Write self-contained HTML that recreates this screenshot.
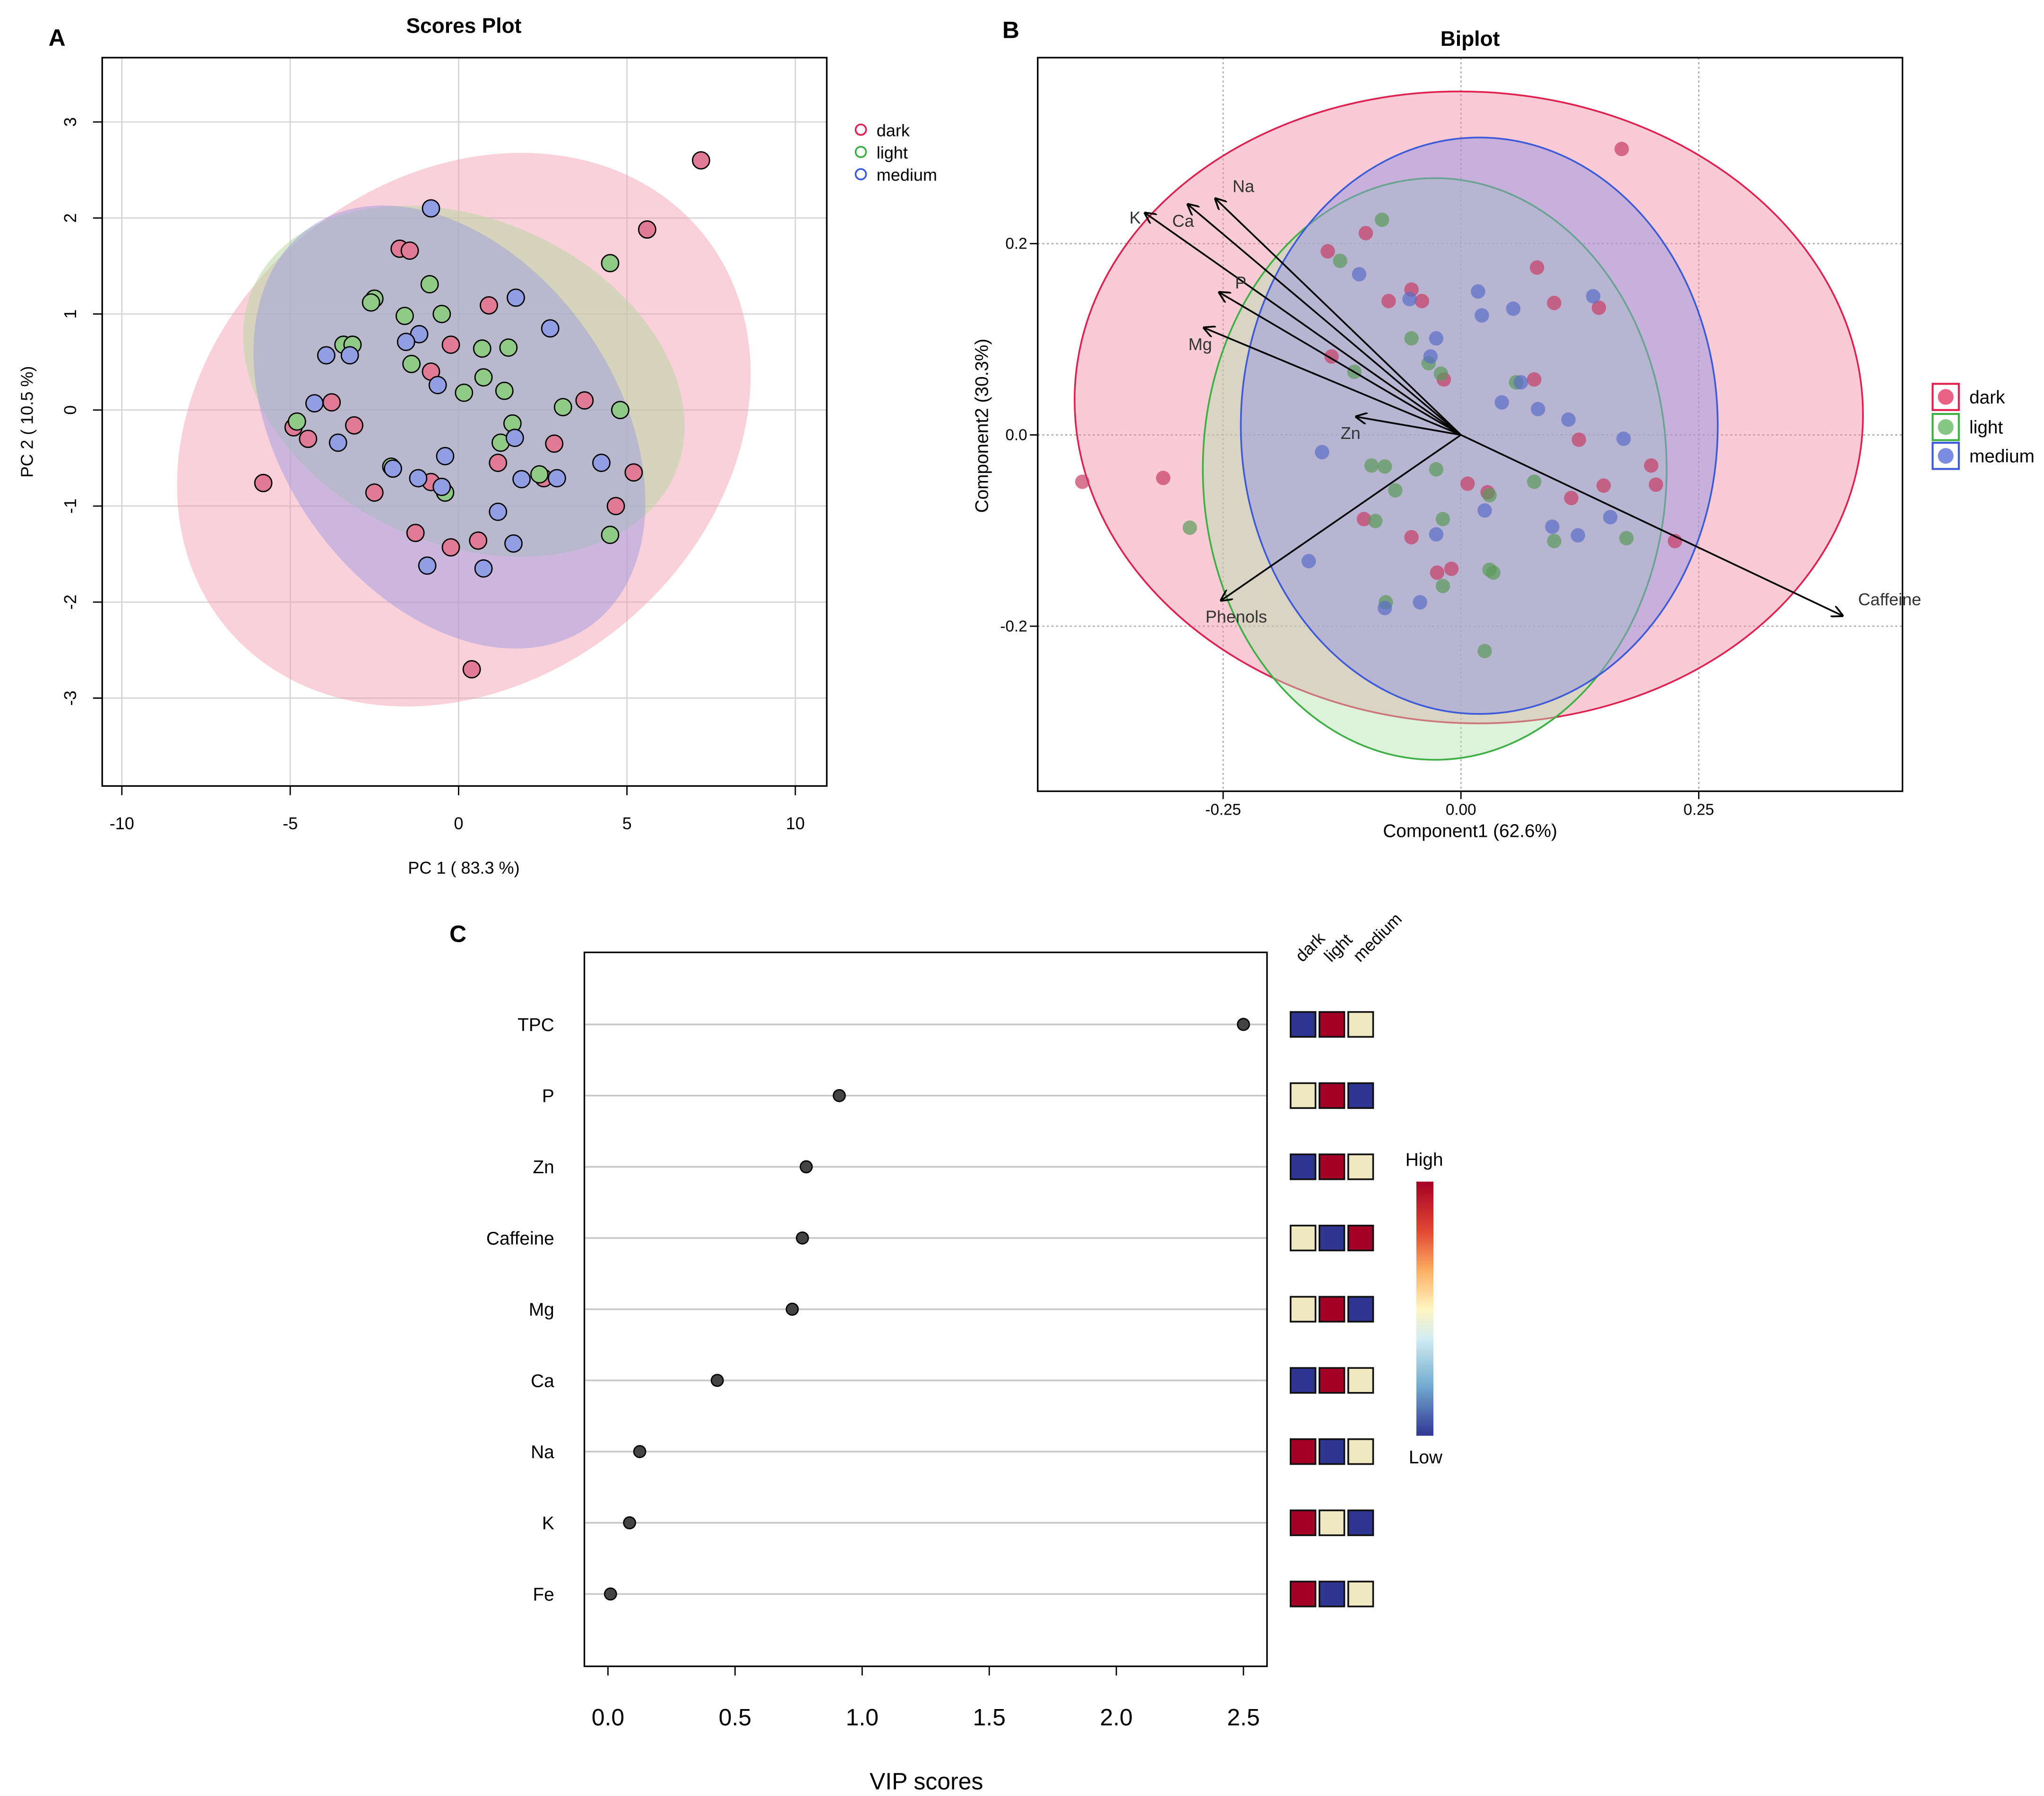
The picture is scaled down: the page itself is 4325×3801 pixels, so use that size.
<!DOCTYPE html>
<html><head><meta charset="utf-8"><style>
html,body{margin:0;padding:0;background:#fff;}
svg{display:block;font-family:"Liberation Sans",sans-serif;}
</style></head><body>
<svg id="fig" width="4325" height="3801" viewBox="0 0 1560 1371" xmlns="http://www.w3.org/2000/svg">
<defs>
<linearGradient id="rdylbu" x1="0" y1="0" x2="0" y2="1">
<stop offset="0" stop-color="#a50026"/><stop offset="0.2" stop-color="#e34a33"/><stop offset="0.35" stop-color="#fdae61"/><stop offset="0.5" stop-color="#fff5c0"/><stop offset="0.62" stop-color="#d1ecf2"/><stop offset="0.8" stop-color="#74add1"/><stop offset="1" stop-color="#313695"/>
</linearGradient>
<marker id="ah" viewBox="0 0 10 10" refX="9" refY="5" markerWidth="9" markerHeight="9" orient="auto-start-reverse" markerUnits="userSpaceOnUse"><path d="M0,0 L10,5 L0,10" fill="none" stroke="#000" stroke-width="1.5"/></marker>
</defs>
<g id="A"></g>
<g id="B"></g>
<g id="C"></g>
</svg>
<script>
// ---- Panel A data ----
const aDarkX=[7.2,5.6,-1.75,-1.45,0.9,-0.23,-0.82,3.74,-3.77,-4.9,-4.47,-3.1,2.84,1.17,5.2,2.53,-0.82,-5.8,-2.5,4.67,-1.28,0.58,-0.23,0.39];
const aDarkY=[2.6,1.88,1.68,1.66,1.09,0.68,0.4,0.1,0.08,-0.18,-0.3,-0.16,-0.35,-0.55,-0.65,-0.71,-0.75,-0.76,-0.86,-1.0,-1.28,-1.36,-1.43,-2.7];
const aLightX=[4.5,-0.86,-2.5,-2.6,-1.6,-0.5,-3.42,-3.15,0.7,1.48,-1.4,0.74,0.16,1.36,3.1,4.8,-4.8,1.6,1.25,-2.0,-0.4,2.4,4.5];
const aLightY=[1.53,1.31,1.16,1.12,0.98,1.0,0.68,0.68,0.64,0.65,0.48,0.34,0.18,0.2,0.03,0.0,-0.12,-0.14,-0.34,-0.59,-0.86,-0.67,-1.3];
const aMedX=[-0.82,1.7,2.72,-3.93,-3.23,-1.17,-1.56,-0.62,-4.28,-3.58,1.67,-0.4,4.24,-1.95,-1.2,1.87,2.92,-0.5,1.17,1.63,-0.93,0.74];
const aMedY=[2.1,1.17,0.85,0.57,0.57,0.79,0.71,0.26,0.07,-0.34,-0.29,-0.48,-0.55,-0.61,-0.71,-0.72,-0.71,-0.8,-1.06,-1.39,-1.62,-1.65];
const aXTicks=[-10,-5,0,5,10];
const aYTicks=[-3,-2,-1,0,1,2,3];
// ---- Panel B data ----
const bDarkX=[0.169,-0.398,-0.313,-0.140,-0.100,-0.052,-0.041,0.080,0.098,0.145,-0.136,-0.018,0.077,0.124,0.200,0.205,0.150,0.116,0.007,-0.102,-0.052,0.028,-0.010,-0.025,0.225,-0.076];
const bDarkY=[0.299,-0.049,-0.045,0.192,0.211,0.152,0.140,0.175,0.138,0.133,0.082,0.058,0.058,-0.005,-0.032,-0.052,-0.053,-0.066,-0.051,-0.088,-0.107,-0.060,-0.140,-0.144,-0.111,0.140];
const bLightX=[-0.083,-0.127,-0.112,-0.052,-0.034,-0.021,-0.094,-0.080,-0.069,-0.026,-0.090,-0.019,0.030,0.077,0.098,0.174,0.030,0.034,-0.019,-0.079,0.025,-0.285,0.058];
const bLightY=[0.225,0.182,0.066,0.101,0.075,0.064,-0.032,-0.033,-0.058,-0.036,-0.090,-0.088,-0.063,-0.049,-0.111,-0.108,-0.141,-0.144,-0.158,-0.175,-0.226,-0.097,0.055];
const bMedX=[-0.107,-0.054,0.018,0.022,0.055,0.139,-0.026,-0.032,0.063,0.043,0.081,0.113,0.171,-0.146,-0.160,-0.026,0.025,0.096,0.123,0.157,-0.043,-0.080];
const bMedY=[0.168,0.142,0.150,0.125,0.132,0.145,0.101,0.082,0.055,0.034,0.027,0.016,-0.004,-0.018,-0.132,-0.104,-0.079,-0.096,-0.105,-0.086,-0.175,-0.181];
const arrowNames=["Na","Ca","K","P","Mg","Zn","Phenols","Caffeine"];
const arrowX=[-0.258,-0.287,-0.332,-0.254,-0.270,-0.110,-0.252,0.401];
const arrowY=[0.247,0.241,0.232,0.149,0.112,0.019,-0.173,-0.189];
const bXTicks=[-0.25,0.00,0.25];
const bXTickLabels=["-0.25","0.00","0.25"];
const bYTicks=[-0.2,0.0,0.2];
const bYTickLabels=["-0.2","0.0","0.2"];
// ---- Panel C data ----
const vipNames=["TPC","P","Zn","Caffeine","Mg","Ca","Na","K","Fe"];
const vipValues=[2.50,0.91,0.78,0.765,0.725,0.43,0.125,0.085,0.01];
const heatLevels=[["B","R","C"],["C","R","B"],["B","R","C"],["C","B","R"],["C","R","B"],["B","R","C"],["R","B","C"],["R","C","B"],["R","B","C"]];
const groupNames=["dark","light","medium"];
const cXTicks=[0,0.5,1,1.5,2,2.5];
const cXTickLabels=["0.0","0.5","1.0","1.5","2.0","2.5"];

const NS="http://www.w3.org/2000/svg";
function mk(parent,tag,attrs,text){const e=document.createElementNS(NS,tag);for(const k in attrs)e.setAttribute(k,attrs[k]);if(text!==undefined)e.textContent=text;parent.appendChild(e);return e;}

// ===== Panel A =====
(function(){
const g=document.getElementById('A');
const L=78,R=631,T=44,Bt=600;
const sx=v=>350+v*25.7, sy=v=>313-v*73.3;
let e;
e=mk(g,'text',{x:37,y:35,'font-size':18,'font-weight':'bold'},'A');


e=mk(g,'text',{x:354,y:25,'font-size':16,'font-weight':'bold','text-anchor':'middle'},'Scores Plot');


aXTicks.forEach(t=>{
 e=mk(g,'line',{x1:sx(t),x2:sx(t),y1:T,y2:Bt,stroke:'#d6d6d6','stroke-width':1});
 
 
 mk(g,'line',{x1:sx(t),x2:sx(t),y1:Bt,y2:Bt+7,stroke:'#000'});
 e=mk(g,'text',{x:sx(t),y:Bt+33,'font-size':13,'text-anchor':'middle'},String(t));
 
 
});
aYTicks.forEach(t=>{
 e=mk(g,'line',{x1:L,x2:R,y1:sy(t),y2:sy(t),stroke:'#d6d6d6','stroke-width':1});
 
 
 mk(g,'line',{x1:L-7,x2:L,y1:sy(t),y2:sy(t),stroke:'#000'});
 e=mk(g,'text',{x:58,y:sy(t),'font-size':13,'text-anchor':'middle',transform:`rotate(-90 58 ${sy(t)})`},String(t));
 
 
});
e=mk(g,'ellipse',{cx:354,cy:328,rx:236,ry:192,transform:'rotate(-40 354 328)',fill:'rgba(244,150,172,0.45)'});


e=mk(g,'ellipse',{cx:354,cy:291,rx:176,ry:124,transform:'rotate(24 354 291)',fill:'rgba(185,215,165,0.55)'});


e=mk(g,'ellipse',{cx:343,cy:326,rx:186,ry:128,transform:'rotate(55 343 326)',fill:'rgba(150,150,225,0.45)'});


const series=[[aDarkX,aDarkY,'#e07a95','point-dark'],[aLightX,aLightY,'#8fca86','point-light'],[aMedX,aMedY,'#919ee3','point-medium']];
series.forEach(s=>{s[0].forEach((x,i)=>{
 e=mk(g,'circle',{cx:sx(x),cy:sy(s[1][i]),r:6.5,fill:s[2],stroke:'#000','stroke-width':1});
 
 
});});
mk(g,'rect',{x:L,y:T,width:R-L,height:Bt-T,fill:'none',stroke:'#000','stroke-width':1.2});
e=mk(g,'text',{x:354,y:667,'font-size':13,'text-anchor':'middle'},'PC 1 ( 83.3 %)');


e=mk(g,'text',{x:25,y:322,'font-size':13,'text-anchor':'middle',transform:'rotate(-90 25 322)'},'PC 2 ( 10.5 %)');


[['dark','#e0204f',99],['light','#3cb043',116],['medium','#3d5bd9',133]].forEach(l=>{
 e=mk(g,'circle',{cx:657,cy:l[2],r:4,fill:'none',stroke:l[1],'stroke-width':1.3});
 
 
 e=mk(g,'text',{x:669,y:l[2]+5,'font-size':13},l[0]);
 
 
});
})();

// ===== Panel B =====
(function(){
const g=document.getElementById('B');
const L=792,R=1452,T=44,Bt=604;
const sx=v=>1115+v*726, sy=v=>332-v*730;
let e;
e=mk(g,'text',{x:765,y:29,'font-size':18,'font-weight':'bold'},'B');


e=mk(g,'text',{x:1122,y:35,'font-size':16,'font-weight':'bold','text-anchor':'middle'},'Biplot');


bXTicks.forEach((t,i)=>{
 mk(g,'line',{x1:sx(t),x2:sx(t),y1:T,y2:Bt,stroke:'#aaa','stroke-dasharray':'1.5,2'});
 mk(g,'line',{x1:sx(t),x2:sx(t),y1:Bt,y2:Bt+6,stroke:'#000'});
 e=mk(g,'text',{x:sx(t),y:Bt+18,'font-size':12,'text-anchor':'middle'},bXTickLabels[i]);
 
 
});
bYTicks.forEach((t,i)=>{
 mk(g,'line',{x1:L,x2:R,y1:sy(t),y2:sy(t),stroke:'#aaa','stroke-dasharray':'1.5,2'});
 mk(g,'line',{x1:L-6,x2:L,y1:sy(t),y2:sy(t),stroke:'#000'});
 e=mk(g,'text',{x:L-8,y:sy(t)+4,'font-size':12,'text-anchor':'end'},bYTickLabels[i]);
 
 
});
e=mk(g,'ellipse',{cx:1121,cy:311,rx:301,ry:241,transform:'rotate(3 1121 311)',fill:'rgba(242,140,165,0.45)',stroke:'#e0204f','stroke-width':1.3});


e=mk(g,'ellipse',{cx:1095,cy:358,rx:177,ry:222,fill:'rgba(180,225,175,0.45)',stroke:'#3cb043','stroke-width':1.3});


e=mk(g,'ellipse',{cx:1129,cy:325,rx:182,ry:220,fill:'rgba(150,150,225,0.5)',stroke:'#3d5bd9','stroke-width':1.3});


const series=[[bDarkX,bDarkY,'rgba(200,60,100,0.7)','b-point-dark'],[bLightX,bLightY,'rgba(90,155,90,0.7)','b-point-light'],[bMedX,bMedY,'rgba(90,110,200,0.7)','b-point-medium']];
series.forEach(s=>{s[0].forEach((x,i)=>{
 e=mk(g,'circle',{cx:sx(x),cy:sy(s[1][i]),r:5.5,fill:s[2]});
 
 
});});
const offs={Na:[13,-9],Ca:[-12,13],K:[-12,4],P:[12,-7],Mg:[-12,13],Zn:[-12,13],Phenols:[-12,13],Caffeine:[12,-12]};
arrowNames.forEach((n,i)=>{
 e=mk(g,'line',{x1:sx(0),y1:sy(0),x2:sx(arrowX[i]),y2:sy(arrowY[i]),stroke:'#000','stroke-width':1.3,'marker-end':'url(#ah)'});
 
 
 const o=offs[n];
 e=mk(g,'text',{x:sx(arrowX[i])+o[0],y:sy(arrowY[i])+o[1]+4,'font-size':13,fill:'#333','text-anchor':o[0]>0?'start':'start'},n);
 
 
});
mk(g,'rect',{x:L,y:T,width:R-L,height:Bt-T,fill:'none',stroke:'#000','stroke-width':1.2});
e=mk(g,'text',{x:1122,y:639,'font-size':14,'text-anchor':'middle'},'Component1 (62.6%)');


e=mk(g,'text',{x:754,y:325,'font-size':14,'text-anchor':'middle',transform:'rotate(-90 754 325)'},'Component2 (30.3%)');


[['dark','#e0204f','rgba(230,70,110,0.85)',303],['light','#3cb043','rgba(110,190,110,0.85)',326],['medium','#3d5bd9','rgba(100,120,220,0.85)',348]].forEach(l=>{
 e=mk(g,'rect',{x:1475,y:l[3]-10,width:20,height:20,fill:'#fff',stroke:l[1],'stroke-width':1.5});
 
 
 mk(g,'circle',{cx:1485,cy:l[3],r:6,fill:l[2]});
 e=mk(g,'text',{x:1503,y:l[3]+5,'font-size':14},l[0]);
 
 
});
})();

// ===== Panel C =====
(function(){
const g=document.getElementById('C');
const L=446,R=967,T=727,Bt=1272;
const sx=v=>464+v*194, sy=i=>782+i*54.35;
const cols={B:'#2e3592',R:'#a50026',C:'#f0e8c0'};
let e;
e=mk(g,'text',{x:343,y:719,'font-size':18,'font-weight':'bold'},'C');


vipNames.forEach((n,i)=>{
 e=mk(g,'line',{x1:L,x2:R,y1:sy(i),y2:sy(i),stroke:'#c8c8c8','stroke-width':1.3});
 
 
 e=mk(g,'text',{x:423,y:sy(i)+5,'font-size':14,'text-anchor':'end'},n);
 
 
 e=mk(g,'circle',{cx:sx(vipValues[i]),cy:sy(i),r:4.5,fill:'#444',stroke:'#000','stroke-width':1});
 
 
 heatLevels[i].forEach((lv,j)=>{
  e=mk(g,'rect',{x:985+j*22,y:sy(i)-9.5,width:19,height:19,fill:cols[lv],stroke:'#111','stroke-width':1.3});
  
  
 });
});
groupNames.forEach((n,j)=>{
 const x=994+j*22,y=735;
 e=mk(g,'text',{x:x,y:y,'font-size':13,transform:`rotate(-45 ${x} ${y})`},n);
 
 
});
mk(g,'rect',{x:L,y:T,width:R-L,height:Bt-T,fill:'none',stroke:'#000','stroke-width':1.2});
cXTicks.forEach((t,i)=>{
 mk(g,'line',{x1:sx(t),x2:sx(t),y1:Bt,y2:Bt+7,stroke:'#000'});
 e=mk(g,'text',{x:sx(t),y:1317,'font-size':18,'text-anchor':'middle'},cXTickLabels[i]);
 
 
});
mk(g,'line',{x1:sx(0),x2:sx(2.5),y1:Bt,y2:Bt,stroke:'#000'});
e=mk(g,'text',{x:707,y:1366,'font-size':18,'text-anchor':'middle'},'VIP scores');


e=mk(g,'rect',{x:1081,y:902,width:13,height:194,fill:'url(#rdylbu)'});


e=mk(g,'text',{x:1087,y:890,'font-size':14,'text-anchor':'middle'},'High');


e=mk(g,'text',{x:1088,y:1117,'font-size':14,'text-anchor':'middle'},'Low');


})();
</script>
</body></html>
